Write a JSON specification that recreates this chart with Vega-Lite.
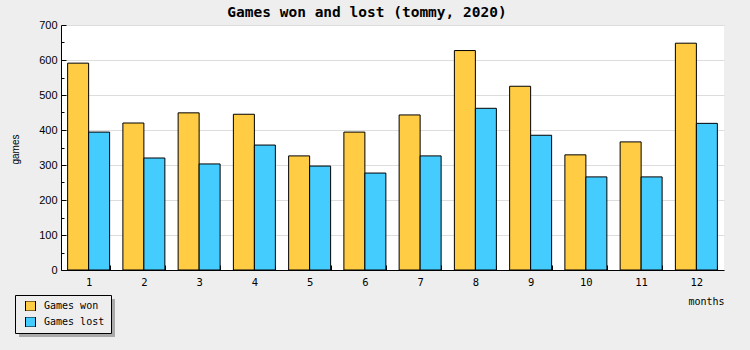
{
  "$schema": "https://vega.github.io/schema/vega-lite/v6.json",
  "width": 663,
  "height": 245,
  "autosize": {"type": "none"},
  "padding": {"left": 61, "top": 25, "right": 26, "bottom": 80},
  "background": "#eeeeee",
  "title": {
    "text": "Games won and lost (tommy, 2020)",
    "font": "DejaVu Sans Mono",
    "fontSize": 14.5,
    "fontWeight": "bold",
    "color": "black",
    "anchor": "middle",
    "frame": "bounds",
    "offset": 4,
    "dy": 5
  },
  "config": {
    "view": {"stroke": null, "fill": "white"}
  },
  "data": {
    "values": [
      {"month": 1, "series": "Games won", "games": 591},
      {"month": 1, "series": "Games lost", "games": 394},
      {"month": 2, "series": "Games won", "games": 420},
      {"month": 2, "series": "Games lost", "games": 320},
      {"month": 3, "series": "Games won", "games": 449},
      {"month": 3, "series": "Games lost", "games": 303},
      {"month": 4, "series": "Games won", "games": 445},
      {"month": 4, "series": "Games lost", "games": 357},
      {"month": 5, "series": "Games won", "games": 326},
      {"month": 5, "series": "Games lost", "games": 297},
      {"month": 6, "series": "Games won", "games": 394},
      {"month": 6, "series": "Games lost", "games": 277},
      {"month": 7, "series": "Games won", "games": 443},
      {"month": 7, "series": "Games lost", "games": 326},
      {"month": 8, "series": "Games won", "games": 627},
      {"month": 8, "series": "Games lost", "games": 462},
      {"month": 9, "series": "Games won", "games": 525},
      {"month": 9, "series": "Games lost", "games": 385},
      {"month": 10, "series": "Games won", "games": 329},
      {"month": 10, "series": "Games lost", "games": 266},
      {"month": 11, "series": "Games won", "games": 366},
      {"month": 11, "series": "Games lost", "games": 266},
      {"month": 12, "series": "Games won", "games": 648},
      {"month": 12, "series": "Games lost", "games": 419}
    ]
  },
  "encoding": {
    "x": {
      "field": "month",
      "type": "ordinal",
      "scale": {"paddingInner": 0.24, "paddingOuter": 0.12},
      "axis": {
        "title": "months",
        "titleFont": "DejaVu Sans Mono",
        "titleFontSize": 10,
        "titleFontWeight": "normal",
        "titleColor": "black",
        "titleAnchor": "end",
        "titleAlign": "right",
        "titleBaseline": "middle",
        "titleX": 663,
        "titleY": 31,
        "labelAngle": 0,
        "labelFont": "DejaVu Sans Mono",
        "labelFontSize": 10.5,
        "labelColor": "black",
        "labelPadding": 12,
        "tickBand": "extent",
        "tickSize": -5,
        "tickColor": "black",
        "domainColor": "black",
        "grid": false
      }
    },
    "xOffset": {
      "field": "series",
      "type": "nominal",
      "sort": ["Games won", "Games lost"],
      "scale": {"paddingInner": 0, "paddingOuter": 0}
    },
    "y": {
      "field": "games",
      "type": "quantitative",
      "scale": {"domain": [0, 700], "nice": false},
      "axis": {
        "title": "games",
        "titleFont": "Liberation Sans",
        "titleFontSize": 10,
        "titleFontWeight": "normal",
        "titleColor": "black",
        "titleX": -46,
        "titleY": 124,
        "titleAngle": -90,
        "titleAlign": "center",
        "titleBaseline": "middle",
        "values": [0, 50, 100, 150, 200, 250, 300, 350, 400, 450, 500, 550, 600, 650, 700],
        "labelExpr": "datum.value % 100 == 0 ? datum.label : ''",
        "labelFont": "Liberation Sans",
        "labelFontSize": 11,
        "labelColor": "black",
        "labelPadding": 9,
        "tickSize": {"condition": {"test": "datum.value % 100 == 0", "value": -5}, "value": -3},
        "tickColor": "black",
        "domainColor": "black",
        "gridColor": "#dddddd",
        "gridOpacity": {"condition": {"test": "datum.value % 100 == 0 && datum.value > 0", "value": 1}, "value": 0}
      }
    }
  },
  "layer": [
    {
      "mark": {"type": "point", "opacity": 0},
      "encoding": {
        "shape": {
          "field": "series",
          "type": "nominal",
          "sort": ["Games won", "Games lost"],
          "legend": {
            "title": null,
            "orient": "none",
            "legendX": -42,
            "legendY": 274,
            "zindex": 0,
            "direction": "vertical",
            "fillColor": "#aaaaaa",
            "strokeColor": null,
            "padding": 6,
            "symbolOffset": 4,
            "symbolType": "square",
            "symbolSize": 5184,
            "symbolOpacity": 0,
            "symbolStrokeWidth": 0,
            "labelExpr": "''",
            "labelFontSize": 10,
            "labelOffset": 8,
            "rowPadding": 6,
            "clipHeight": 10
          }
        }
      }
    },
    {
      "mark": {"type": "bar", "stroke": "black", "strokeWidth": 1, "opacity": 1},
      "encoding": {
        "color": {
          "field": "series",
          "type": "nominal",
          "sort": ["Games won", "Games lost"],
          "scale": {"domain": ["Games won", "Games lost"], "range": ["#ffcc44", "#44ccff"]},
          "legend": {
            "title": null,
            "orient": "none",
            "legendX": -46,
            "legendY": 270,
            "zindex": 1,
            "direction": "vertical",
            "fillColor": "#eeeeee",
            "strokeColor": "black",
            "padding": 6,
            "symbolOffset": 4,
            "symbolType": "square",
            "symbolSize": 100,
            "symbolStrokeColor": "black",
            "symbolStrokeWidth": 1,
            "symbolOpacity": 1,
            "labelFont": "DejaVu Sans Mono",
            "labelFontSize": 10,
            "labelColor": "black",
            "labelOffset": 8,
            "rowPadding": 6,
            "clipHeight": 10
          }
        }
      }
    }
  ]
}
